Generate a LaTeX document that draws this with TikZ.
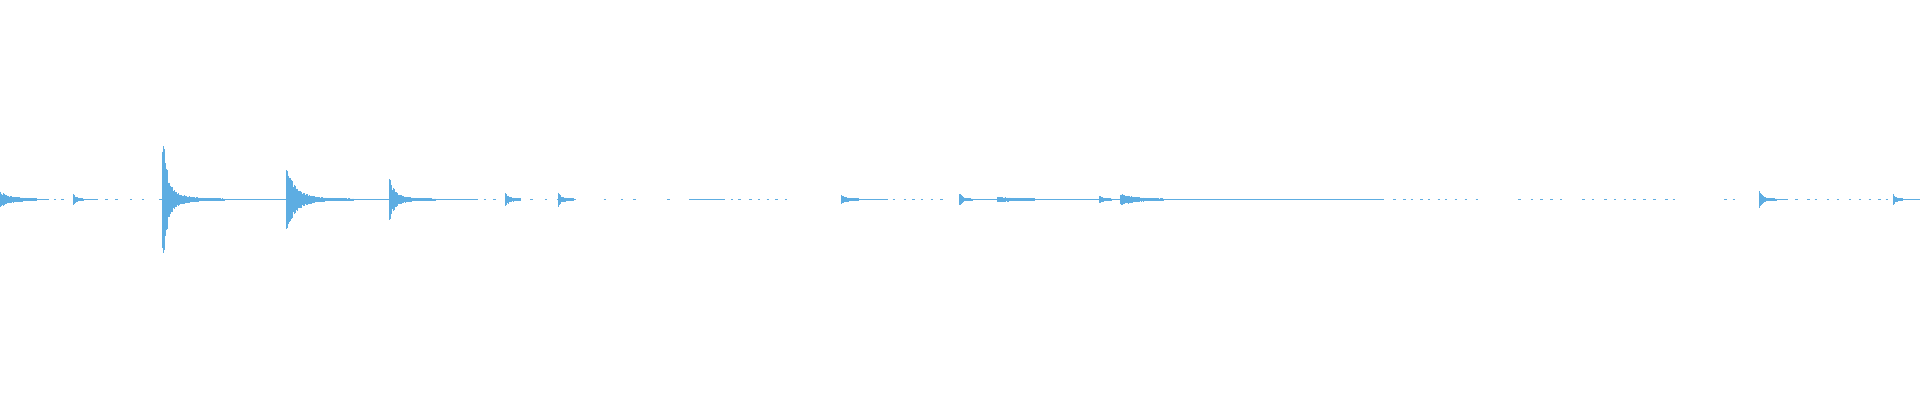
\documentclass[tikz,border=0pt]{standalone}
\definecolor{wave}{HTML}{5DADE2}
\newcommand{\wburst}[6]{% x0, amp, tau, sustain, tau2, len
  \foreach \i in {0,0.5,...,#6}{
    \pgfmathsetmacro{\hh}{(#2*exp(-\i/#3)+#4*exp(-\i/#5))*(0.65+0.35*rnd)+0.7}
    \draw (#1+\i,163-\hh) -- (#1+\i,163+\hh);
  }}
\begin{document}
\begin{tikzpicture}[x=0.6122pt,y=-0.6122pt,wave/.style={draw=wave,line width=0.55pt}]
\useasboundingbox (0,0) rectangle (1568,326.7);
\pgfmathsetseed{7}
\begin{scope}[wave]
\foreach \a/\b in {0/40,60/80,130/300,300/390,455/470,563/590,688/725,785/1130,1438/1460,1547/1568}
  \draw (\a,163) -- (\b,163);
\foreach \x in {44,50,86,94,106,116,395,403,433,445,493,507,517,545,590,597,603,612,619,626,633,641,729,738,745,752,760,768,1138,1146,1152,1160,1166,1174,1180,1188,1196,1205,1240,1250,1258,1266,1274,1292,1300,1310,1318,1326,1334,1342,1350,1360,1366,1408,1415,1466,1476,1482,1492,1500,1510,1518,1526,1534,1540}
  \draw (\x,163) -- (\x+2,163);
\wburst{0}{5}{8}{1}{20}{30}
\wburst{60}{4}{2}{0.5}{6}{8}
\wburst{133}{46}{3}{12}{12}{50}
\wburst{234}{22}{6}{7}{15}{55}
\wburst{318}{13}{4}{4}{12}{38}
\wburst{413}{4}{3}{1}{8}{12}
\wburst{456}{4}{3}{1}{8}{12}
\wburst{687}{3}{3}{1}{10}{14}
\wburst{784}{5}{2}{0.5}{8}{10}
\wburst{815}{1}{20}{0.5}{20}{30}
\wburst{898}{2}{3}{0.5}{8}{10}
\wburst{915}{3}{12}{1.5}{10}{35}
\wburst{1437}{7}{2}{1}{8}{14}
\wburst{1546}{4}{2}{0.5}{6}{8}
\end{scope}
\end{tikzpicture}
\end{document}
